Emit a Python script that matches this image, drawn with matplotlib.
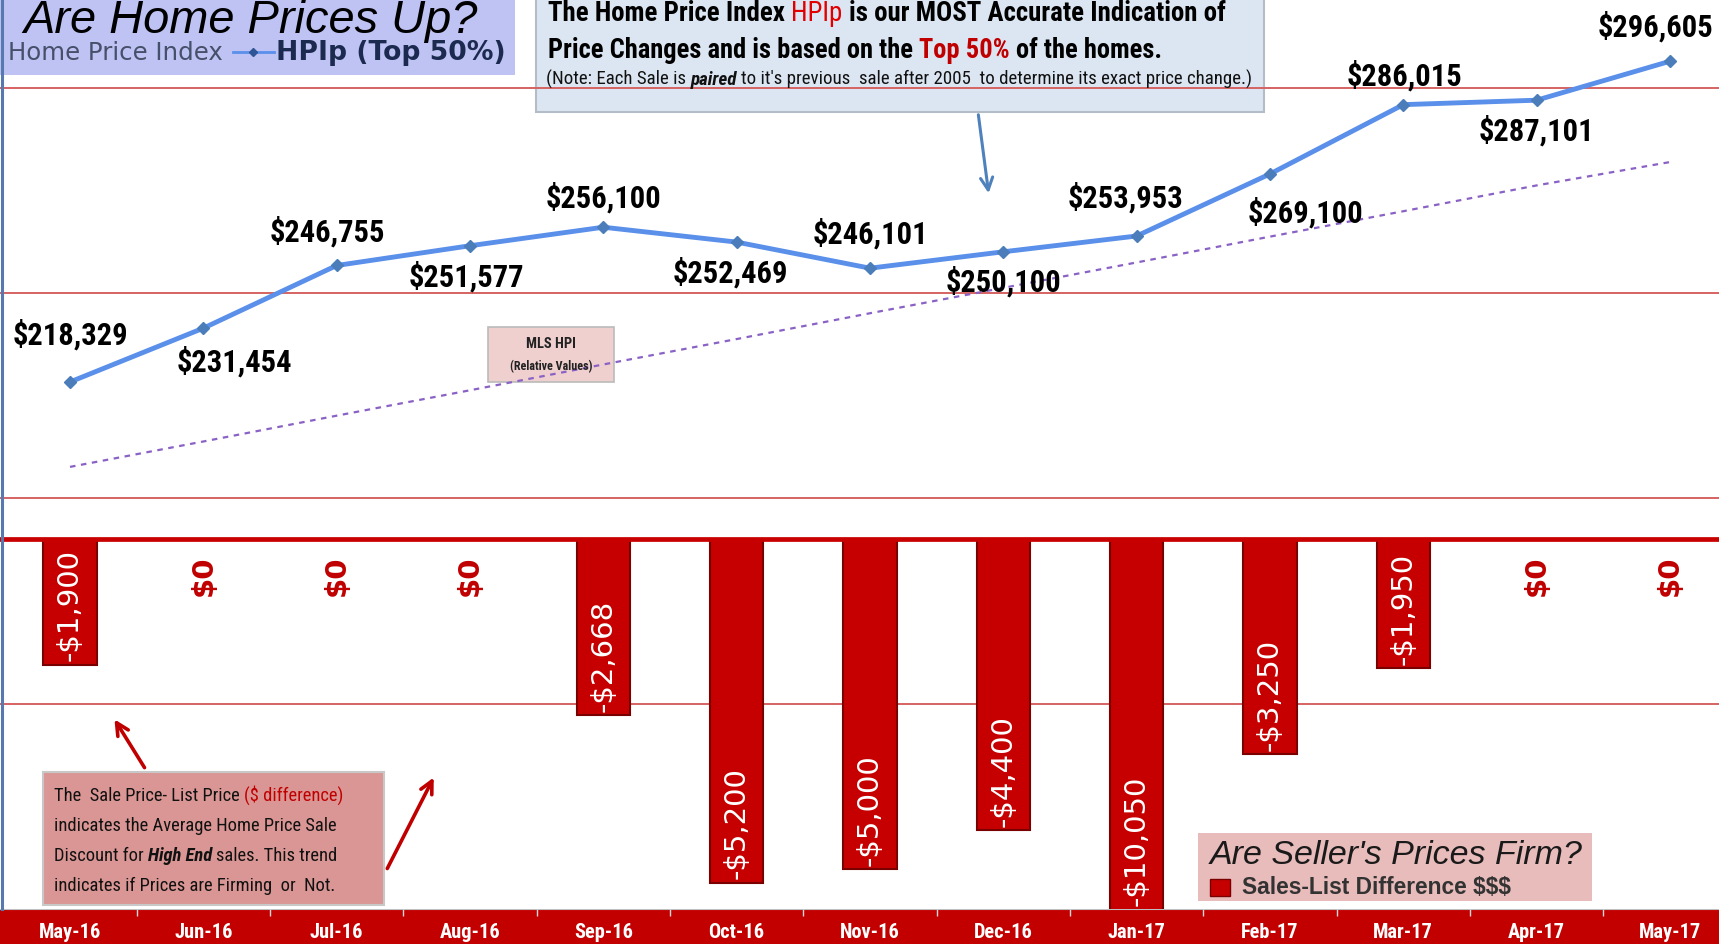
import matplotlib
matplotlib.use("Agg")
import matplotlib.pyplot as plt
from matplotlib import font_manager
from matplotlib.patches import Rectangle, FancyArrowPatch
from matplotlib.lines import Line2D
from matplotlib.transforms import Affine2D

# chart data
months = ["May-16", "Jun-16", "Jul-16", "Aug-16", "Sep-16", "Oct-16", "Nov-16",
          "Dec-16", "Jan-17", "Feb-17", "Mar-17", "Apr-17", "May-17"]
hpi_top50 = [218329, 231454, 246755, 251577, 256100, 252469, 246101,
             250100, 253953, 269100, 286015, 287101, 296605]
mls_hpi = [197600, 203800, 210100, 216300, 222600, 228800, 235100,
           241300, 247500, 253800, 260000, 266300, 272000]
sale_list_diff = [-1900, 0, 0, 0, -2668, -5200, -5000,
                  -4400, -10050, -3250, -1950, 0, 0]

# where each price label sits relative to its point (pixels, +dy = down)
label_dx = [0, 31, -9, -4, 0, -6, 0, 0, -11, 36, 1, 0, -14]
label_dy = [-48, 33, -35, 30, -30, 30, -35, 29, -39, 38, -30, 30, -35]

W, H = 1719, 945
_names = {f.name for f in font_manager.fontManager.ttflist}
_narrow = ["Liberation Sans Narrow", "Roboto Condensed", "Arial Narrow",
           "Nimbus Sans Narrow", "Open Sans Condensed"]
NARROW = next((f for f in _narrow if f in _names), "Liberation Sans")

fig = plt.figure(figsize=(W / 100, H / 100), dpi=100, facecolor="white")
R = fig.canvas.get_renderer()
PX = Affine2D().scale(1 / W, -1 / H).translate(0, 1) + fig.transFigure  # pixels from top-left


def fit_size(s, width, **kw):
    t = fig.text(0, 0, s, fontsize=20, **kw)
    w = t.get_window_extent(R).width
    t.remove()
    return 20 * width / w


x = list(range(len(months)))
XL = (-70 / 133.33, (W - 70) / 133.33)
GRID = "#D66262"

# upper panel: HPIp line
ax = fig.add_axes([0, 1 - 540 / H, 1, 540 / H])
ax.set_facecolor("none")
ax.set_xlim(*XL)
ax.set_ylim(180000, 311800)
ax.set_yticks([190000, 240000, 290000])
ax.grid(axis="y", color=GRID, lw=1.4)
ax.tick_params(length=0, labelleft=False, labelbottom=False)
ax.set_xticks([])
for s in ax.spines.values():
    s.set_visible(False)
ax.plot(x, mls_hpi, color="#8A62C6", lw=1.6, ls=(0, (2.5, 2.5)), zorder=3)
ax.plot(x, hpi_top50, color="#5A8FEA", lw=3.5, marker="D", ms=6.5,
        mfc="#4A7DBA", mec="#4A7DBA", zorder=4)
price_size = fit_size("$296,605", 116, family=NARROW, weight="bold")
for i, v in enumerate(hpi_top50):
    ax.annotate(f"${v:,}", (i, v), xytext=(label_dx[i] * 0.72, -label_dy[i] * 0.72),
                textcoords="offset points", ha="center", va="center",
                fontsize=price_size, family=NARROW, weight="bold", color="black")

# lower panel: sales - list difference bars
bx = fig.add_axes([0, 1 - 910 / H, 1, 370 / H])
bx.set_facecolor("none")
bx.set_xlim(*XL)
bx.set_ylim(-5600, 0)
bx.set_yticks([-2500])
bx.grid(axis="y", color=GRID, lw=1.4)
bx.set_axisbelow(True)
bx.tick_params(length=0, labelleft=False, labelbottom=False)
bx.set_xticks([])
for k, s in bx.spines.items():
    s.set_visible(k == "top")
bx.spines["top"].set_color("#C80000")
bx.spines["top"].set_linewidth(3.4)
bx.bar(x, sale_list_diff, width=0.4, color="#C60000", edgecolor="#7A0000", lw=1.5, zorder=2)
ylow = bx.get_ylim()[0]
for i, v in enumerate(sale_list_diff):
    if v < 0:
        bx.annotate(f"-${abs(v):,}", (i, max(v, ylow)), xytext=(0, 3), textcoords="offset points",
                    rotation=90, ha="center", va="bottom", color="white", fontsize=21,
                    family="DejaVu Sans", zorder=5)
    else:
        bx.annotate(f"${v:,}", (i, v), xytext=(0, -11), textcoords="offset points",
                    rotation=90, ha="center", va="top", color="#C00000", fontsize=21,
                    family="DejaVu Sans", weight="bold")

# month band
band = fig.add_axes([0, 0, 1, 35 / H])
band.set_facecolor("#C30000")
band.set_xlim(*XL)
band.set_ylim(0, 1)
band.set_xticks([])
band.set_yticks([])
for s in band.spines.values():
    s.set_visible(False)
band.axhline(1, color="#BFBFBF", lw=1.5)
band.vlines([i + 0.5 for i in x[:-1]], 0.8, 1, color="#D9D9D9", lw=1)
month_size = fit_size("May-16", 62, family=NARROW, weight="bold")
for i, m in enumerate(months):
    band.text(i, 0.36, m, ha="center", va="center", color="white", weight="bold",
              family=NARROW, fontsize=month_size)

# left border
fig.add_artist(Line2D([1.5, 1.5], [0, 910], transform=PX, color="#5878B0", lw=2.2))


def box(x0, y0, w, h, fc, ec="none", lw=1.2):
    fig.add_artist(Rectangle((x0, y0), w, h, transform=PX, fc=fc, ec=ec, lw=lw, zorder=-1))


def space_w(size, family, weight, style):
    a = fig.text(0, 0, "a a", fontsize=size, family=family, weight=weight, style=style)
    b = fig.text(0, 0, "aa", fontsize=size, family=family, weight=weight, style=style)
    w = a.get_window_extent(R).width - b.get_window_extent(R).width
    a.remove()
    b.remove()
    return w


def rich(x0, y0, parts, size, family, fit=None, va="baseline"):
    def lay(sz):
        made, cx = [], x0
        for s, color, weight, style in parts:
            sp = space_w(sz, family, weight, style)
            cx += (len(s) - len(s.lstrip(" "))) * sp
            t = fig.text(cx, y0, s.strip(" "), transform=PX, fontsize=sz, family=family,
                         color=color, weight=weight, style=style, va=va)
            cx += t.get_window_extent(R).width + (len(s) - len(s.rstrip(" "))) * sp
            made.append(t)
        return made, cx - x0
    made, w = lay(size)
    if fit:
        for t in made:
            t.remove()
        made, w = lay(size * fit / w)
    return made[0].get_fontsize()


def fit_text(x0, y0, s, width, **kw):
    t = fig.text(x0, y0, s, transform=PX, fontsize=20, **kw)
    t.set_fontsize(20 * width / t.get_window_extent(R).width)
    return t


# title box
box(0, 0, 515, 76, "#BEC3F4")
fit_text(23, 33, "Are Home Prices Up?", 453, family="Liberation Sans", style="italic",
         va="baseline", color="black")
fit_text(8, 53, "Home Price Index", 214, family="DejaVu Sans", va="center", color="#46506A")
fig.add_artist(Line2D([233, 253, 274], [53, 53, 53], transform=PX, color="#5A8FEA", lw=2,
                      marker="D", ms=4.5, markevery=[1], mfc="#2F5597", mec="#2F5597"))
fit_text(276, 53, "HPIp (Top 50%)", 229, family="DejaVu Sans", weight="bold", va="center",
         color="#1B2A4E")

# info box
box(536, -2, 728, 115, "#DCE6F2", "#B4BCC8", 1.5)
B, N = "bold", "normal"
rich(548, 21, [("The Home Price Index ", "black", B, N), ("HPIp", "#E00000", N, N),
               (" is our MOST Accurate Indication of", "black", B, N)], 18, NARROW, fit=680)
rich(548, 58, [("Price Changes and is based on the ", "black", B, N), ("Top 50%", "#C00000", B, N),
               (" of the homes.", "black", B, N)], 18, NARROW, fit=614)
rich(546, 85, [("(Note: Each Sale is ", "#111111", N, N), ("paired", "#111111", B, "italic"),
               (" to it's previous  sale after 2005  to determine its exact price change.)",
                "#111111", N, N)], 12, NARROW, fit=704)
fig.add_artist(FancyArrowPatch((978, 113), (989, 197), transform=PX, arrowstyle="->",
                               mutation_scale=22, color="#4F81BD", lw=2.2))

# MLS HPI tag
box(488, 328, 126, 55, "#F0CFCF", "#BBBBBB")
fit_text(551, 344, "MLS HPI", 50, family=NARROW, weight="bold", ha="center", va="center",
         color="#222222")
fit_text(551, 367, "(Relative Values)", 82, family=NARROW, weight="bold", ha="center",
         va="center", color="#222222")

# explanation box
box(43, 773, 341, 133, "#D99694", "#C8C8C8", 1.5)
sz = rich(54, 801, [("The  Sale Price- List Price ", "#111111", N, N),
                    ("($ difference)", "#C00000", N, N)], 13, NARROW, fit=289)
rich(54, 831, [("indicates the Average Home Price Sale", "#111111", N, N)], sz, NARROW)
rich(54, 861, [("Discount for ", "#111111", N, N), ("High End", "#111111", B, "italic"),
               (" sales. This trend", "#111111", N, N)], sz, NARROW)
rich(54, 891, [("indicates if Prices are Firming  or  Not.", "#111111", N, N)], sz, NARROW)
for a, b in [((146, 771), (113, 718)), ((386, 872), (435, 776))]:
    fig.add_artist(FancyArrowPatch(a, b, transform=PX, arrowstyle="->", mutation_scale=22,
                                   color="#C00000", lw=2.6))

# legend box
box(1198, 834, 394, 68, "#E8BCBB")
fit_text(1210, 855, "Are Seller's Prices Firm?", 372, family="Liberation Sans", style="italic",
         va="center", color="#1A1A1A")
fig.add_artist(Rectangle((1210, 880), 20, 17, transform=PX, fc="#C60000", ec="#7A0000", lw=1))
fit_text(1242, 888, "Sales-List Difference $$$", 269, family="Liberation Sans", weight="bold",
         va="center", color="#333333")

fig.savefig("out.png", dpi=100, facecolor="white")
